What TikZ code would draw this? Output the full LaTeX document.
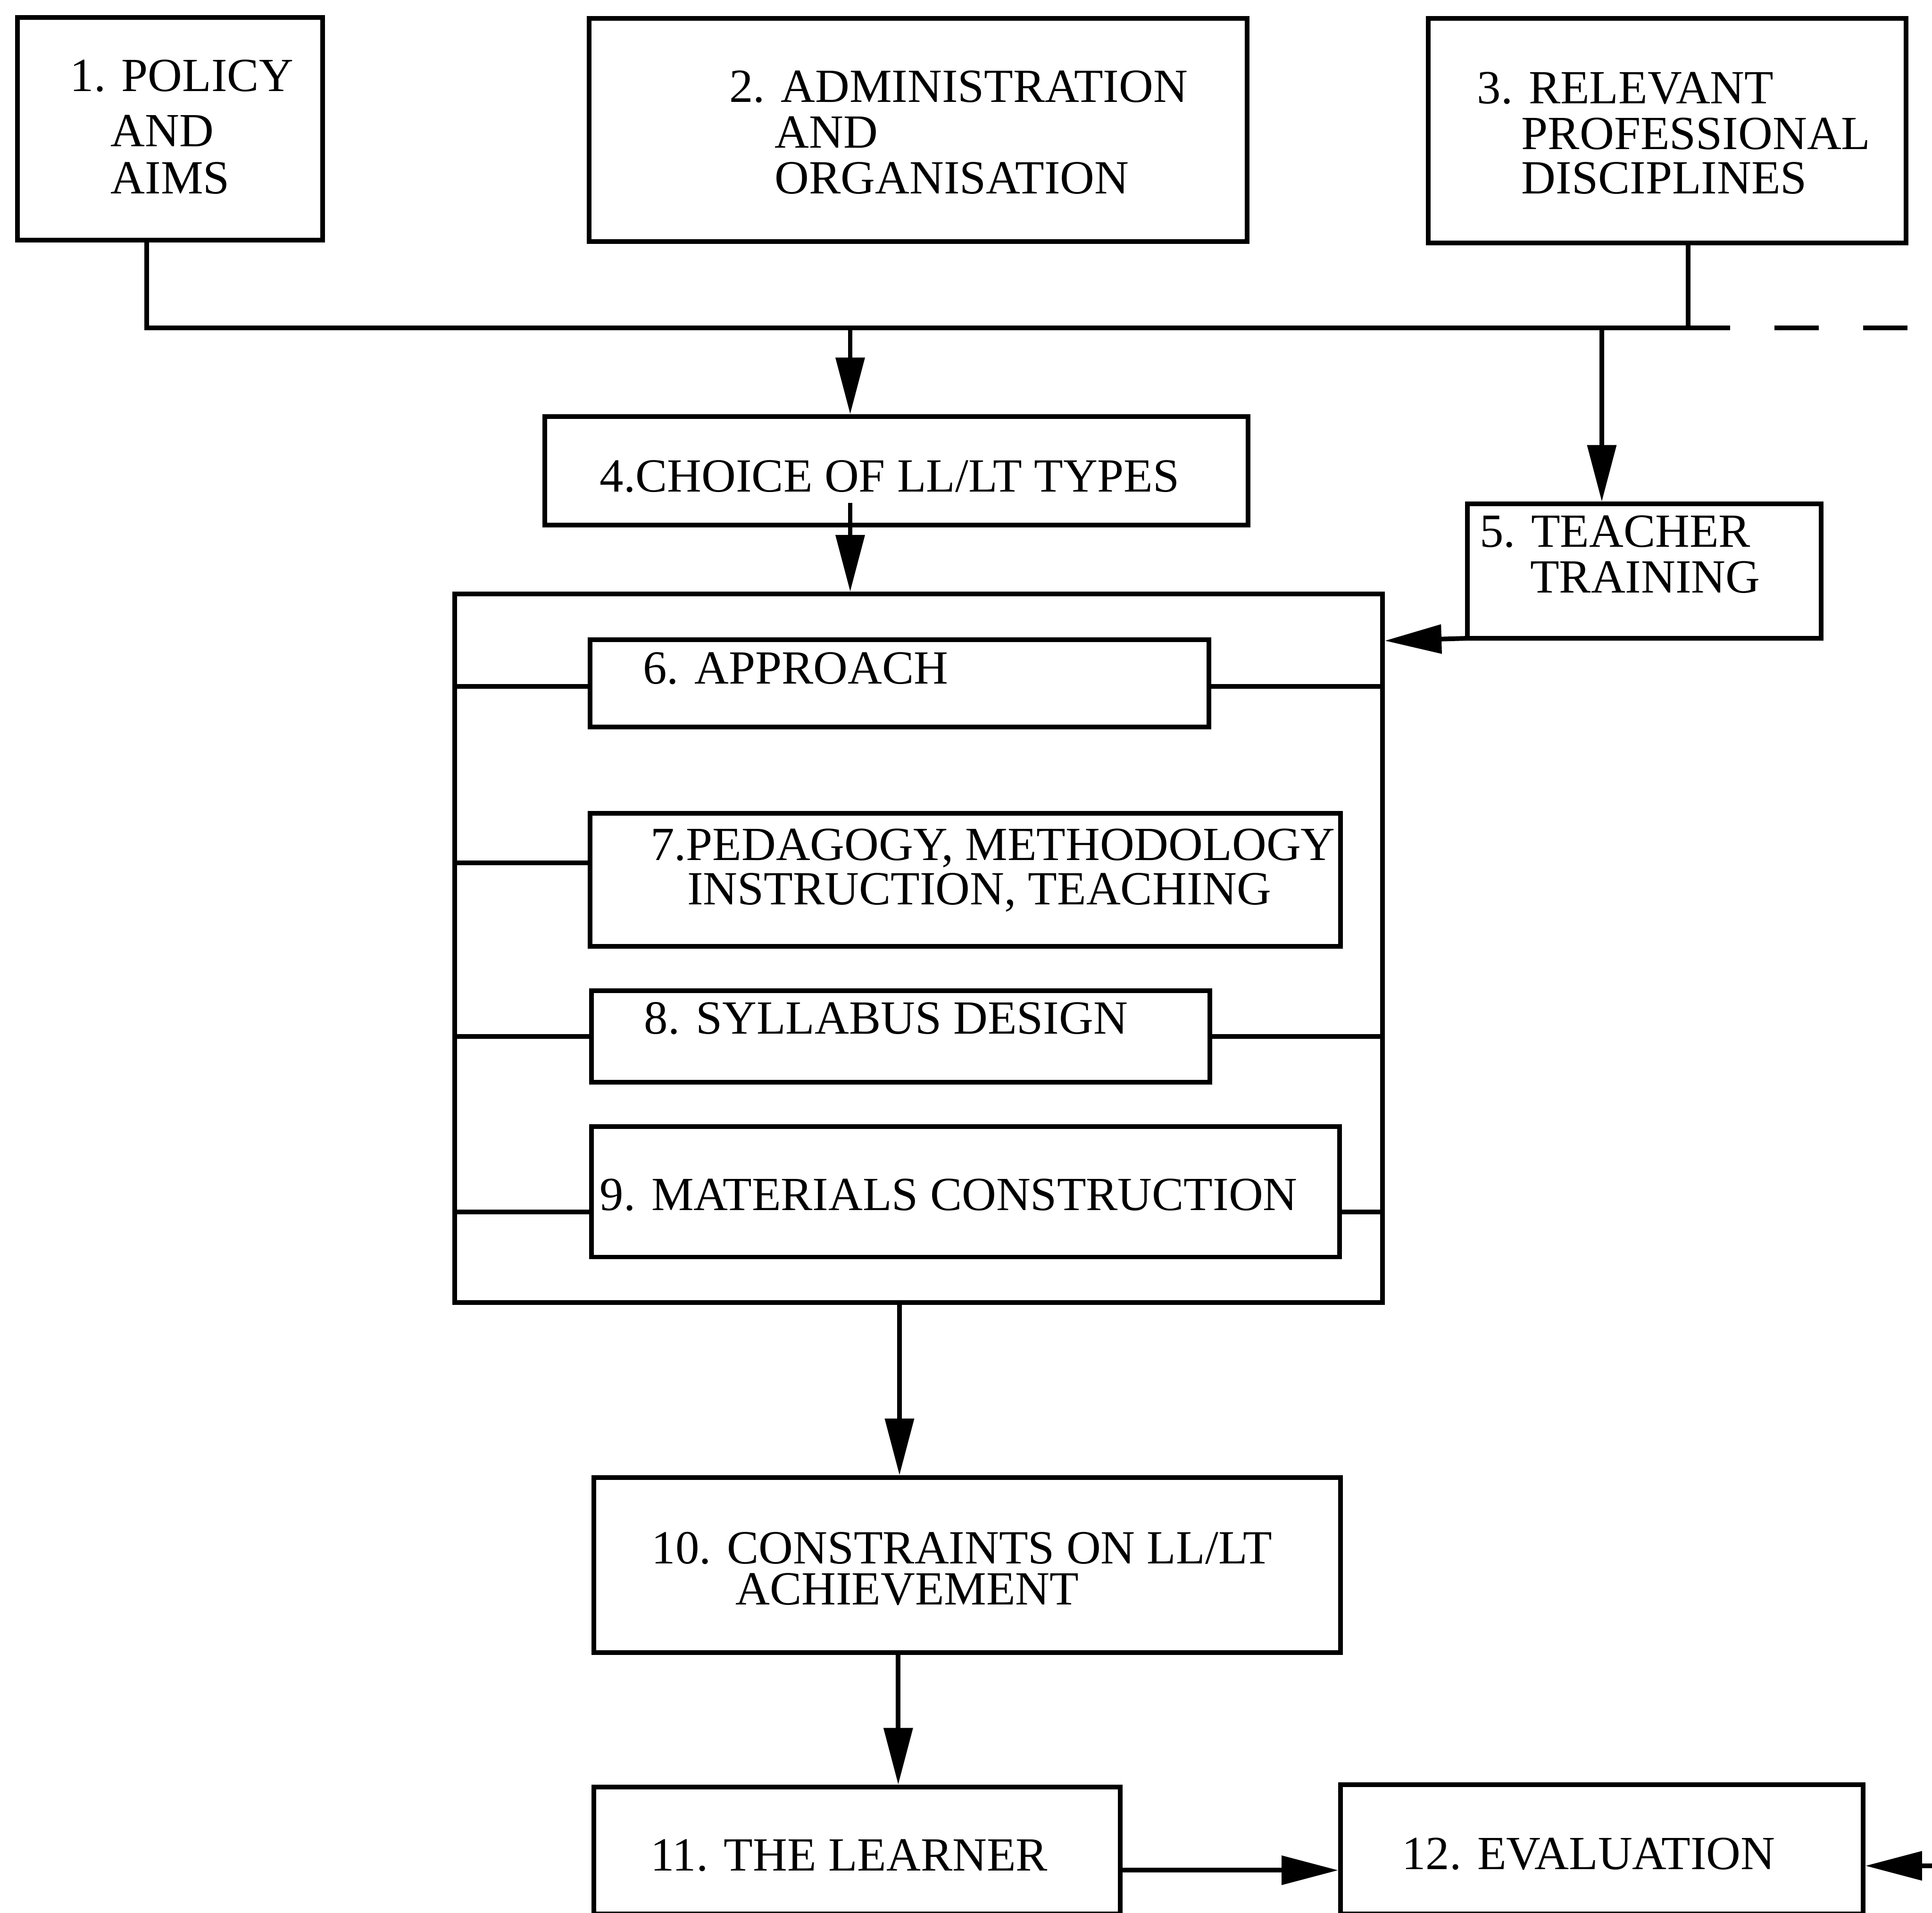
\documentclass[tikz,border=0pt]{standalone}
\usepackage{fontspec}
\setmainfont{Liberation Serif}
\usetikzlibrary{arrows.meta}
\begin{document}
\begin{tikzpicture}[x=1pt,y=-1pt,line width=3.8pt,
  box/.style={draw,rectangle,inner sep=0pt},
  txt/.style={anchor=base west,inner sep=0pt,font=\fontsize{38.6}{37}\selectfont},
  arr/.style={-{Triangle[length=46pt,width=23pt]}}]
\newcommand\mybox[5]{\node[box,minimum width={#4pt-#2pt},minimum height={#5pt-#3pt}] (#1) at ({(#2+#4)/2},{(#3+#5)/2}) {};}
\useasboundingbox (0,0) rectangle (1568,1552);
\fill[white] (0,0) rectangle (1568,1552);
\clip (0,0) rectangle (1568,1552);
% boxes
\mybox{b1}{14}{14}{262}{195}
\mybox{b2}{478}{15}{1012}{196}
\mybox{b3}{1159}{15}{1547}{197}
\mybox{b4}{442}{338}{1013}{426}
\mybox{b5}{1191}{409}{1478}{518}
\mybox{bc}{369}{482}{1122}{1057}
\mybox{b6}{479}{519}{981}{590}
\mybox{b7}{479}{660}{1088}{768}
\mybox{b8}{480}{804}{982}{878}
\mybox{b9}{480}{914}{1087}{1020}
\mybox{b10}{482}{1199}{1088}{1341}
\mybox{b11}{482}{1450}{909}{1553}
\mybox{b12}{1088}{1448}{1512}{1553}
% texts
\node[txt] (t1a) at (55,74) {1. POLICY};
\node[txt] (t1b) at (88,119) {AND};
\node[txt] (t1c) at (88,157) {AIMS};
\node[txt] (t2a) at (590,83) {2. ADMINISTRATION};
\node[txt] (t2b) at (627,120) {AND};
\node[txt] (t2c) at (627,157) {ORGANISATION};
\node[txt] (t3a) at (1197,84) {3. RELEVANT};
\node[txt] (t3b) at (1233,121) {PROFESSIONAL};
\node[txt] (t3c) at (1233,157) {DISCIPLINES};
\node[txt] (t4) at (485,399) {4.CHOICE OF LL/LT TYPES};
\node[txt] (t5a) at (1199,444) {5. TEACHER};
\node[txt] (t5b) at (1240,481) {TRAINING};
\node[txt] (t6) at (520,555) {6. APPROACH};
\node[txt] (t7a) at (526,698) {7.PEDAGOGY, METHODOLOGY};
\node[txt] (t7b) at (556,734) {INSTRUCTION, TEACHING};
\node[txt] (t8) at (521,839) {8. SYLLABUS DESIGN};
\node[txt] (t9) at (485,982) {9. MATERIALS CONSTRUCTION};
\node[txt] (t10a) at (527,1269) {10. CONSTRAINTS ON LL/LT};
\node[txt] (t10b) at (595,1302) {ACHIEVEMENT};
\node[txt] (t11) at (526,1518) {11. THE LEARNER};
\node[txt] (t12) at (1136,1517) {12. EVALUATION};
% bus
\coordinate (j1) at (119,266);
\coordinate (j2) at (690,266);
\coordinate (j4) at (1300,266);
\coordinate (j3) at (1370,266);
\coordinate (jend) at (1404,266);
\coordinate (d1) at (1440,266);
\coordinate (d2) at (1549,266);
\draw (b1.south -| j1) -- (j1) -- (jend);
\draw (b3.south -| j3) -- (j3);
\draw[dash pattern=on 36pt off 36pt] (d1) -- (d2);
\draw[arr] (j2) -- (j2 |- b4.north);
\draw[arr] (j4) -- (j4 |- b5.north);
\coordinate (s4) at (690,408);
\draw[arr] (s4) -- (s4 |- bc.north);
\draw[arr] ([yshift=1.9pt]b5.south west) -- (bc.east |- b5.south west);
% inner connectors
\coordinate (y6) at (0,557);
\coordinate (y7) at (0,700);
\coordinate (y8) at (0,841);
\coordinate (y9) at (0,983.5);
\draw (b6.west |- y6) -- (bc.west |- y6);
\draw (b6.east |- y6) -- (bc.east |- y6);
\draw (b7.west |- y7) -- (bc.west |- y7);
\draw (b8.west |- y8) -- (bc.west |- y8);
\draw (b8.east |- y8) -- (bc.east |- y8);
\draw (b9.west |- y9) -- (bc.west |- y9);
\draw (b9.east |- y9) -- (bc.east |- y9);
% lower flow
\coordinate (x10) at (730,0);
\coordinate (x11) at (729,0);
\coordinate (y11) at (0,1517.6);
\coordinate (inR) at (1575,1514);
\draw[arr] (bc.south -| x10) -- (b10.north -| x10);
\draw[arr] (b10.south -| x11) -- (b11.north -| x11);
\draw[arr] (b11.east |- y11) -- (b12.west |- y11);
\draw[arr] (inR) -- (b12.east |- inR);
\end{tikzpicture}
\end{document}
